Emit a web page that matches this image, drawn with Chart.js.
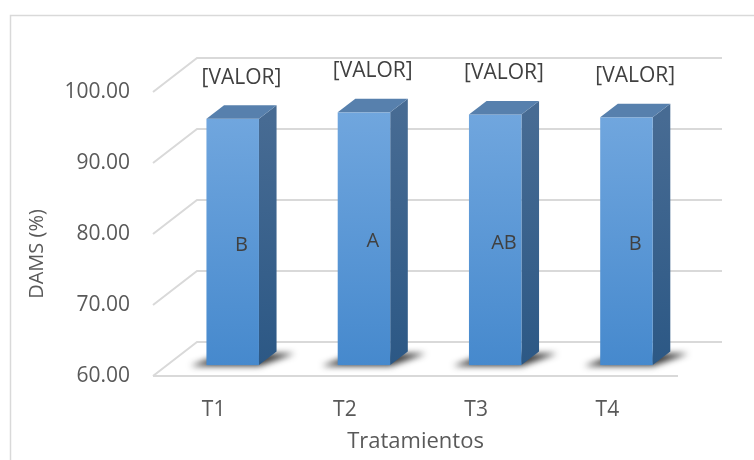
<!DOCTYPE html>
<html>
<head>
<meta charset="utf-8">
<script src="https://cdn.jsdelivr.net/npm/chart.js@4/dist/chart.umd.min.js"></script>
<style>
  html, body { margin: 0; padding: 0; background: #ffffff; }
  #wrap { width: 754px; height: 460px; }
</style>
</head>
<body>
<div id="wrap"><canvas id="chart" width="754" height="460"></canvas></div>
<script>
// Treatments and their DAMS (%) means
const categories = ['T1', 'T2', 'T3', 'T4'];
const damsValues = [94.7, 95.6, 95.3, 94.9];
const valueLabels = ['[VALOR]', '[VALOR]', '[VALOR]', '[VALOR]'];
const groupLetters = ['B', 'A', 'AB', 'B'];
const yMin = 60;
const yMax = 100;
const yStep = 10;

// 3-D look: offset of the back wall relative to the front plane
const DEPTH_DX = 44;
const DEPTH_DY = -34;
const BAR_FRONT = 0.32;   // where the bar front face sits inside the depth
const BAR_DEPTH = 0.40;   // depth of each bar as a share of the whole depth

const FONT = '"Open Sans", "DejaVu Sans", sans-serif';
const GRID = '#d9d9d9';

const box3d = {
  id: 'box3d',
  beforeDraw(chart) {
    const ctx = chart.ctx;
    ctx.save();
    ctx.strokeStyle = GRID;
    ctx.lineWidth = 1.5;
    ctx.beginPath();
    ctx.moveTo(10.5, 460);
    ctx.lineTo(10.5, 15.5);
    ctx.lineTo(754, 15.5);
    ctx.stroke();
    ctx.restore();
  },
  beforeDatasetsDraw(chart) {
    const ctx = chart.ctx;
    const { left, right, bottom } = chart.chartArea;
    const ys = chart.scales.y;
    ctx.save();
    ctx.strokeStyle = GRID;
    ctx.lineWidth = 2;
    ys.ticks.forEach(t => {
      const y = ys.getPixelForValue(t.value);
      ctx.beginPath();
      ctx.moveTo(left, y);
      ctx.lineTo(left + DEPTH_DX, y + DEPTH_DY);
      ctx.lineTo(right + DEPTH_DX, y + DEPTH_DY);
      ctx.stroke();
    });
    // front edge of the floor
    ctx.beginPath();
    ctx.moveTo(left, bottom);
    ctx.lineTo(right, bottom);
    ctx.stroke();
    ctx.restore();
  },
  beforeDatasetDraw() {
    return false; // bars are painted as prisms below
  },
  afterDatasetsDraw(chart) {
    const ctx = chart.ctx;
    const meta = chart.getDatasetMeta(0);
    const ys = chart.scales.y;
    const fx = BAR_FRONT * DEPTH_DX, fy = BAR_FRONT * DEPTH_DY;
    const bx = BAR_DEPTH * DEPTH_DX, by = BAR_DEPTH * DEPTH_DY;
    const floorY = ys.getPixelForValue(yMin);

    meta.data.forEach((el, i) => {
      const p = el.getProps(['x', 'y', 'width'], true);
      const xl = p.x - p.width / 2 + fx;
      const xr = p.x + p.width / 2 + fx;
      const yt = p.y + fy;
      const yb = floorY + fy;

      // soft shadow on the floor
      ctx.save();
      ctx.filter = 'blur(3px)';
      ctx.fillStyle = 'rgba(20,20,20,0.85)';
      ctx.beginPath();
      ctx.moveTo(xl - 16, yb + 1);
      ctx.lineTo(xr, yb + 1);
      ctx.lineTo(xr + bx + 18, yb + by + 2);
      ctx.lineTo(xl + bx, yb + by + 2);
      ctx.closePath();
      ctx.fill();
      ctx.restore();

      ctx.save();
      // side face
      const gs = ctx.createLinearGradient(0, yt, 0, yb);
      gs.addColorStop(0, '#476b93');
      gs.addColorStop(1, '#2c5885');
      ctx.fillStyle = gs;
      ctx.beginPath();
      ctx.moveTo(xr, yt);
      ctx.lineTo(xr + bx, yt + by);
      ctx.lineTo(xr + bx, yb + by);
      ctx.lineTo(xr, yb);
      ctx.closePath();
      ctx.fill();

      // front face
      const gf = ctx.createLinearGradient(0, yt, 0, yb);
      gf.addColorStop(0, '#70a6de');
      gf.addColorStop(1, '#4689cd');
      ctx.fillStyle = gf;
      ctx.fillRect(xl, yt, xr - xl, yb - yt);

      // top face
      ctx.fillStyle = '#5780ad';
      ctx.beginPath();
      ctx.moveTo(xl, yt);
      ctx.lineTo(xl + bx, yt + by);
      ctx.lineTo(xr + bx, yt + by);
      ctx.lineTo(xr, yt);
      ctx.closePath();
      ctx.fill();
      ctx.restore();

      // labels
      const cx = (xl + xr) / 2 + bx / 2;
      ctx.save();
      ctx.fillStyle = '#404040';
      ctx.textAlign = 'center';
      ctx.textBaseline = 'middle';
      ctx.font = '21px ' + FONT;
      ctx.fillText(valueLabels[i], cx, yt - 41);
      ctx.font = '20px ' + FONT;
      ctx.fillText(groupLetters[i], cx, (yt + yb) / 2 + 3);
      ctx.restore();
    });

    // y-axis title
    const { top, bottom } = chart.chartArea;
    ctx.save();
    ctx.translate(37, (top + bottom) / 2 + 20);
    ctx.rotate(-Math.PI / 2);
    ctx.fillStyle = '#595959';
    ctx.font = '20px ' + FONT;
    ctx.textAlign = 'center';
    ctx.textBaseline = 'middle';
    ctx.fillText('DAMS (%)', 0, 0);
    ctx.restore();
  }
};

new Chart(document.getElementById('chart'), {
  type: 'bar',
  data: {
    labels: categories,
    datasets: [{
      data: damsValues,
      base: yMin,
      backgroundColor: '#5b9bd5',
      barPercentage: 0.4,
      categoryPercentage: 1.0
    }]
  },
  options: {
    responsive: false,
    animation: false,
    events: [],
    layout: { padding: { left: 10, top: 92, right: 76, bottom: 0 } },
    plugins: { legend: { display: false }, tooltip: { enabled: false } },
    scales: {
      x: {
        grid: { display: false, drawTicks: false },
        border: { display: false },
        ticks: { color: '#595959', font: { family: FONT, size: 21 }, padding: 21, labelOffset: -5 },
        title: { display: true, text: 'Tratamientos', color: '#595959',
                 font: { family: FONT, size: 22 }, padding: { top: 0, bottom: 5 } },
        afterFit(scale) { scale.height = 84; }
      },
      y: {
        min: yMin,
        max: yMax,
        grid: { display: false, drawTicks: false },
        border: { display: false },
        ticks: {
          stepSize: yStep,
          color: '#595959',
          font: { family: FONT, size: 21 },
          padding: 23,
          callback: v => Number(v).toFixed(2)
        },
        afterFit(scale) { scale.width = 143; }
      }
    }
  },
  plugins: [box3d]
});
</script>
</body>
</html>
